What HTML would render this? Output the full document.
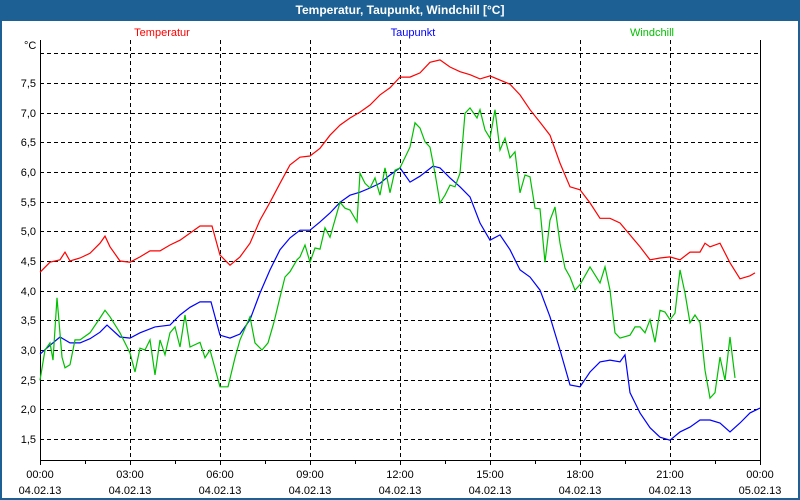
<!DOCTYPE html>
<html><head><meta charset="utf-8"><style>
body{margin:0;width:800px;height:500px;overflow:hidden;background:#1d6194;font-family:"Liberation Sans",sans-serif}
#frame{position:absolute;left:2px;top:21px;width:796px;height:477px;background:#fff}
#title{position:absolute;left:0;top:0;width:800px;height:21px;line-height:21px;text-align:center;color:#fff;font-weight:bold;font-size:12px}
</style></head><body>
<div id="title">Temperatur, Taupunkt, Windchill [°C]</div>
<div id="frame"></div>
<svg id="chart" width="800" height="500" style="position:absolute;left:0;top:0" font-family="Liberation Sans, sans-serif" font-size="11"></svg>
<script>
const tempMin=[0,20,40,50,60,80,100,120,130,140,160,180,200,220,240,260,280,300,320,340,344,360,380,400,420,440,460,480,500,520,540,560,580,600,620,640,660,680,700,720,740,760,780,800,820,840,860,880,900,920,940,960,980,1000,1020,1040,1060,1080,1100,1120,1140,1160,1180,1200,1220,1240,1260,1280,1300,1320,1330,1340,1360,1380,1400,1420,1430];
const tempVal=[4.31,4.48,4.52,4.65,4.50,4.55,4.63,4.80,4.92,4.74,4.50,4.48,4.57,4.67,4.67,4.77,4.85,4.97,5.09,5.09,5.09,4.60,4.43,4.57,4.80,5.19,5.49,5.81,6.12,6.25,6.27,6.40,6.62,6.79,6.91,7.01,7.13,7.30,7.42,7.60,7.60,7.67,7.85,7.89,7.77,7.69,7.64,7.57,7.62,7.55,7.48,7.30,7.05,6.84,6.62,6.15,5.75,5.70,5.48,5.22,5.22,5.14,4.94,4.74,4.52,4.55,4.57,4.52,4.65,4.65,4.80,4.74,4.80,4.47,4.20,4.25,4.30];
const dewMin=[0,20,40,60,80,100,120,134,160,180,200,230,260,280,300,320,342,360,380,400,420,440,460,480,500,520,540,560,580,600,620,640,660,680,700,720,740,760,786,800,820,840,860,880,900,920,940,960,980,1000,1020,1040,1060,1080,1100,1120,1140,1160,1170,1180,1200,1220,1240,1260,1280,1300,1320,1340,1360,1380,1400,1420,1440];
const dewVal=[2.93,3.08,3.22,3.12,3.12,3.19,3.30,3.42,3.22,3.20,3.29,3.39,3.42,3.59,3.72,3.81,3.81,3.25,3.20,3.27,3.51,3.96,4.35,4.69,4.89,5.02,5.02,5.16,5.31,5.49,5.61,5.66,5.73,5.81,5.95,6.07,5.83,5.93,6.10,6.07,5.90,5.75,5.58,5.14,4.85,4.94,4.69,4.35,4.23,4.01,3.56,3.00,2.41,2.38,2.63,2.80,2.83,2.80,2.92,2.28,1.94,1.69,1.53,1.48,1.62,1.70,1.82,1.82,1.77,1.62,1.77,1.94,2.02];
const windMin=[0,10,20,26,34,44,50,60,70,80,100,120,130,140,160,180,190,200,210,220,230,240,250,260,270,280,290,300,320,330,340,360,376,390,400,420,430,444,456,468,480,490,500,514,520,530,540,550,560,570,580,600,610,620,634,640,650,660,670,680,690,700,710,720,740,750,760,770,780,790,800,810,820,830,840,850,860,874,880,890,900,910,920,930,940,950,960,970,980,990,1000,1010,1020,1030,1040,1050,1060,1070,1080,1100,1120,1130,1140,1150,1160,1180,1190,1200,1210,1220,1230,1240,1250,1260,1270,1280,1290,1300,1310,1320,1330,1340,1350,1360,1370,1380,1390,1400,1410,1420,1430];
const windVal=[2.49,3.00,3.12,2.83,3.88,2.88,2.70,2.75,3.17,3.17,3.29,3.54,3.67,3.56,3.29,2.95,2.63,3.03,3.00,3.17,2.58,3.17,2.92,3.29,3.39,3.05,3.59,3.05,3.13,2.87,3.00,2.38,2.38,2.87,3.17,3.56,3.12,3.00,3.12,3.47,3.89,4.23,4.32,4.52,4.57,4.77,4.48,4.72,4.70,5.06,4.90,5.49,5.39,5.36,5.16,5.98,5.81,5.73,5.90,5.61,6.07,5.65,6.03,6.07,6.42,6.83,6.74,6.51,6.42,5.98,5.48,5.61,5.78,5.75,5.98,6.99,7.08,6.91,7.05,6.71,6.57,7.05,6.37,6.57,6.24,6.34,5.65,5.95,5.92,5.39,5.38,4.48,5.19,5.41,4.80,4.38,4.23,4.01,4.10,4.40,4.13,4.40,4.01,3.29,3.20,3.25,3.39,3.39,3.29,3.51,3.13,3.67,3.64,3.51,3.62,4.35,3.96,3.46,3.59,3.46,2.66,2.19,2.28,2.88,2.49,3.22,2.53];
const yTicks=[1.5,2.0,2.5,3.0,3.5,4.0,4.5,5.0,5.5,6.0,6.5,7.0,7.5,8.0];
const yTickLabels=["1,5","2,0","2,5","3,0","3,5","4,0","4,5","5,0","5,5","6,0","6,5","7,0","7,5",""];
const xTicksMin=[0,180,360,540,720,900,1080,1260,1440];
const xTimeLabels=["00:00","03:00","06:00","09:00","12:00","15:00","18:00","21:00","00:00"];
const xDateLabels=["04.02.13","04.02.13","04.02.13","04.02.13","04.02.13","04.02.13","04.02.13","04.02.13","05.02.13"];

const L=40,R=760,T=40,B=460;
const x=m=>L+m*(R-L)/1440;
const y=v=>439-(v-1.5)*59.33;
const svg=document.getElementById('chart');
const NS='http://www.w3.org/2000/svg';
function mk(tag,attrs,parent){const e=document.createElementNS(NS,tag);for(const k in attrs)e.setAttribute(k,attrs[k]);(parent||svg).appendChild(e);return e;}

// horizontal grid
yTicks.forEach((v,i)=>{
  const g=mk('line',{x1:L,x2:R,y1:Math.round(y(v))+0.5,y2:Math.round(y(v))+0.5,stroke:'#000','stroke-dasharray':'4,3'});
  
  
  if(yTickLabels[i]){
    const t=mk('text',{x:36,y:Math.round(y(v))+4,'text-anchor':'end',fill:'#000'});
    t.textContent=yTickLabels[i];
    
    
  }
});
// vertical grid and x labels
xTicksMin.forEach((m,i)=>{
  const px=Math.round(x(m))+0.5;
  if(i>0&&i<xTicksMin.length-1){
    const g=mk('line',{x1:px,x2:px,y1:T,y2:B,stroke:'#000','stroke-dasharray':'4,3'});
    
    
  }
  const tk=mk('line',{x1:px,x2:px,y1:B,y2:B+5,stroke:'#000'});
  
  
  if(i<xTicksMin.length-1){
    const mp=Math.round(x(m+90))+0.5;
    const mt=mk('line',{x1:mp,x2:mp,y1:B,y2:B+4,stroke:'#000'});
    
    
  }
  const t1=mk('text',{x:x(m),y:478,'text-anchor':'middle',fill:'#000'});
  t1.textContent=xTimeLabels[i];
  
  
  const t2=mk('text',{x:x(m),y:494,'text-anchor':'middle',fill:'#000'});
  t2.textContent=xDateLabels[i];
  
  
});
// axes
const ax=mk('path',{d:`M${L+0.5},${T} V${B+0.5} H${R+0.5} V${T}`,fill:'none',stroke:'#000'});


const unit=mk('text',{x:24,y:49,fill:'#000'});unit.textContent='°C';



function series(mins,vals,color,name){
  const d=mins.map((m,i)=>(i?'L':'M')+x(m).toFixed(1)+','+y(vals[i]).toFixed(1)).join(' ');
  const p=mk('path',{d,fill:'none',stroke:color,'stroke-width':1.2});
  
  
}
series(tempMin,tempVal,'#ff0000','temperature-line');
series(dewMin,dewVal,'#0000ff','dewpoint-line');
series(windMin,windVal,'#00c000','windchill-line');

[['Temperatur','#ff0000',162,'legend-temperature'],['Taupunkt','#0000ff',413,'legend-dewpoint'],['Windchill','#00c000',652,'legend-windchill']].forEach(a=>{
  const t=mk('text',{x:a[2],y:36,'text-anchor':'middle',fill:a[1]});
  t.textContent=a[0];
  
  
});
</script>
</body></html>
